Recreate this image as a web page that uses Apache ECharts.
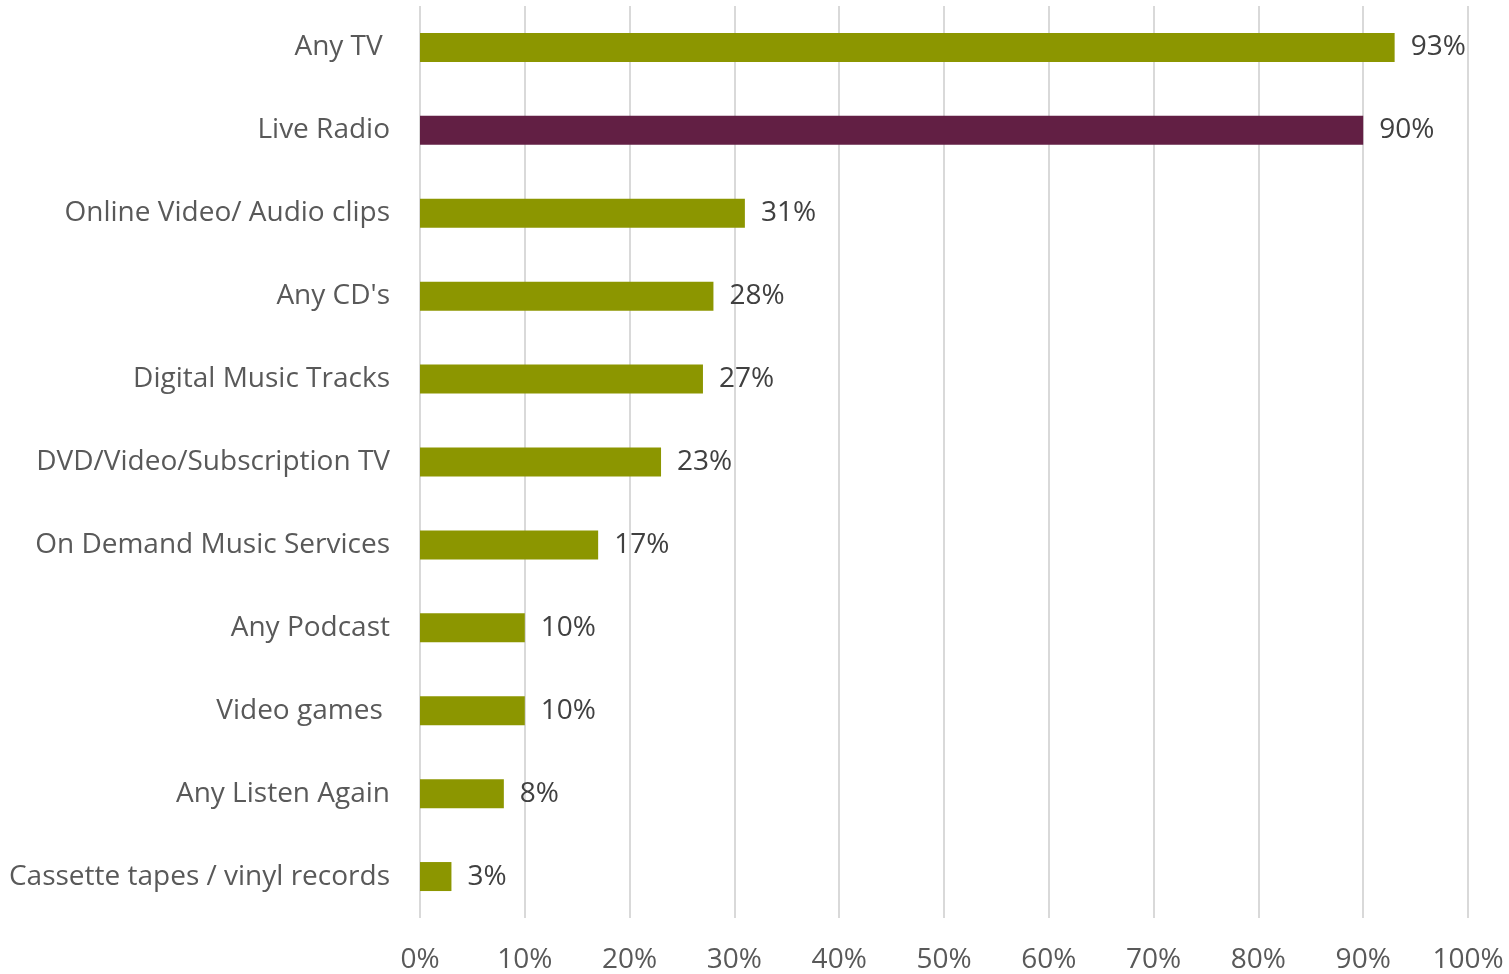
<!DOCTYPE html>
<html>
<head>
<meta charset="utf-8">
<title>Media use</title>
<script src="https://cdn.jsdelivr.net/npm/echarts@6/dist/echarts.min.js"></script>
<style>
  html, body { margin: 0; padding: 0; background: #fff; }
  #chart { width: 1509px; height: 974px; }
</style>
</head>
<body>
<div id="chart"></div>
<script>
// categories top to bottom (trailing spaces kept as in the original labels)
var categories = ['Any TV ', 'Live Radio', 'Online Video/ Audio clips', "Any CD's", 'Digital Music Tracks',
  'DVD/Video/Subscription TV', 'On Demand Music Services', 'Any Podcast', 'Video games ',
  'Any Listen Again', 'Cassette tapes / vinyl records']
var values = [93, 90, 31, 28, 27, 23, 17, 10, 10, 8, 3]
var highlight = 'Live Radio'

var olive = '#8c9600'
var maroon = '#621f44'
var font = 'Open Sans'

var chart = echarts.init(document.getElementById('chart'))

// y axis is inverse so first category sits on top
var barData = values.map(function (v, i) {
  return {
    value: v,
    itemStyle: { color: categories[i] === highlight ? maroon : olive }
  }
})

chart.setOption({
  animation: false,
  grid: { left: 420, right: 41, top: 6, bottom: 55, containLabel: false },
  xAxis: {
    type: 'value',
    min: 0,
    max: 100,
    interval: 10,
    axisLine: { show: false },
    axisTick: { show: false },
    splitLine: { lineStyle: { color: '#d9d9d9', width: 2 } },
    axisLabel: {
      formatter: '{value}%',
      color: '#595959',
      fontFamily: font,
      fontSize: 28,
      margin: 28
    }
  },
  yAxis: {
    type: 'category',
    inverse: true,
    data: categories,
    axisLine: { show: false },
    axisTick: { show: false },
    axisLabel: {
      color: '#595959',
      fontFamily: font,
      fontSize: 28,
      margin: 30,
      padding: [4, 0, 0, 0]
    }
  },
  series: [{
    type: 'bar',
    data: barData,
    barWidth: 29,
    label: {
      show: true,
      position: 'right',
      distance: 16,
      formatter: '{c}%',
      color: '#404040',
      fontFamily: font,
      fontSize: 28,
      padding: [4, 0, 0, 0]
    }
  }]
})
</script>
</body>
</html>
